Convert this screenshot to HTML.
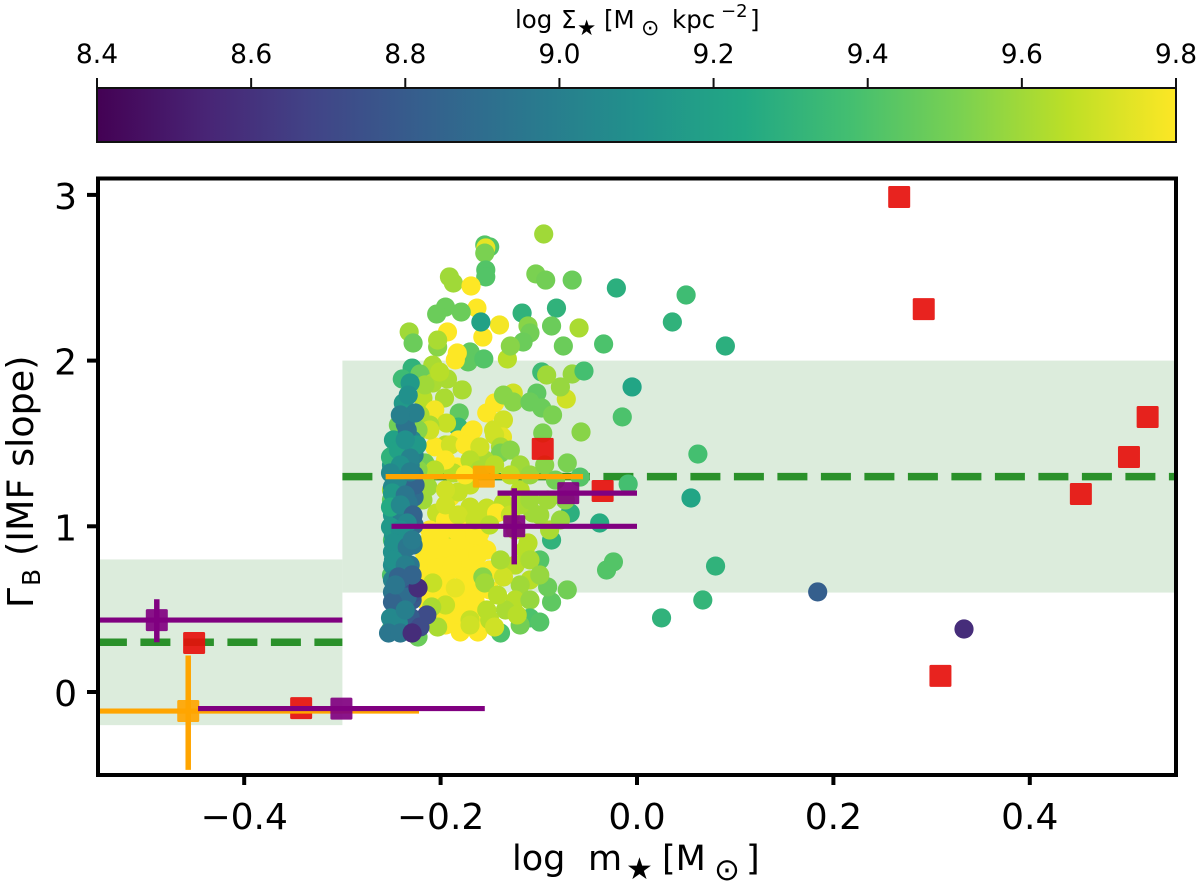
<!DOCTYPE html>
<html lang="en">
<head>
<meta charset="utf-8">
<title>IMF slope vs stellar mass</title>
<style>
html,body{margin:0;padding:0;background:#fff;width:1200px;height:884px;overflow:hidden}
svg{display:block}
text{font-family:"DejaVu Sans","Liberation Sans",sans-serif;fill:#000}
</style>
</head>
<body>
<svg id="chart" xmlns="http://www.w3.org/2000/svg" width="1200" height="884" viewBox="0 0 1200 884"></svg>
<script>
/* stellar-mass scatter: log m*, Gamma_B, log Sigma* */
const logMass = [
-.155,-.150,-.154,-.155,-.154,-.154,-.095,-.191,-.187,-.169,
-.103,-.093,-.066,-.021,-.163,-.195,-.204,-.179,-.140,-.117,
-.082,-.087,-.059,-.193,-.232,-.228,-.203,-.203,-.157,-.111,
-.109,-.116,-.132,-.129,-.075,-.034,-.170,-.172,-.156,-.185,
-.183,-.159,
.090,.036,.050,-.005,-.015,.062,.055,.080,.067,.025,
.184,.333,-.038,-.009,-.031,-.024,
-.071,-.057,-.096,-.068,-.073,-.087,-.089,-.106,-.119,-.099,
-.111,-.109,
-.229,-.239,-.208,-.221,-.193,-.208,-.178,-.196,-.218,-.206,
-.181,-.182,-.194,-.167,-.153,-.145,-.126,-.136,-.126,-.102,
-.109,-.097,-.086,-.072,-.078,-.097,-.092,-.066,-.054,-.136,
-.146,-.137,-.211,-.226,-.195,
-.206,-.182,-.170,-.145,-.139,-.139,-.155,-.183,-.187,-.216,
-.213,-.190,-.182,-.170,-.195,-.170,-.153,-.136,-.143,-.204,
-.193,-.160,
-.211,-.201,-.185,-.170,-.160,-.216,-.201,-.185,-.170,-.153,
-.211,-.195,-.180,-.165,-.206,-.190,-.175,-.160,-.185,-.170,
-.160,-.195,-.180,-.162,-.216,
-.221,-.209,-.193,-.178,-.162,-.219,-.204,-.188,-.173,-.221,
-.201,-.182,-.165,-.150,-.150,-.192,-.178,-.164,-.211,-.195,
-.180,-.165,
-.195,-.182,-.165,-.150,-.129,-.119,-.109,-.099,-.091,-.124,
-.114,-.124,-.109,-.119,-.124,-.109,-.134,-.150,
-.216,-.201,-.221,-.211,-.223,-.190,-.175,-.160,-.170,-.195,
-.160,-.206,-.175,-.145,-.129,-.119,-.109,-.129,-.094,-.083,
-.058,-.078,
-.139,-.109,-.099,-.087,-.091,-.071,-.099,-.119,
-.208,-.195,-.209,-.170,-.153,-.185,-.157,-.155,-.142,-.136,
-.139,-.122,-.145,-.170,-.203,
-.250,-.250,-.249,-.249,-.250,-.250,-.251,-.246,-.243,-.223,
-.223,-.218,
-.248,-.229,-.238,-.248,-.227,-.250,-.231,-.241,-.227,-.249,
-.236,-.227,-.246,-.233,-.249,-.239,-.227,-.248,-.237,-.228,
-.249,-.239,-.249,-.231,-.239,-.249,-.231,-.239,-.249,-.229,
-.243,-.226,-.249,-.236,
-.234,-.236,-.238,-.231,-.226,-.241,-.233,-.224,-.251,-.243,
-.231,-.236,-.241,-.226,-.244,-.251,-.231,-.249,-.236,-.251,
-.241,-.228,-.234,-.251,-.241,-.248,-.234,-.229,-.248,-.236,
-.243,-.228,-.234,-.223,-.249,-.214,-.231,-.221,-.251,-.243,
-.253,-.241,-.229,-.236,-.246,-.229
];
const gammaB = [
2.698,2.686,2.680,2.649,2.547,2.505,2.764,2.505,2.468,2.450,
2.523,2.486,2.486,2.438,2.317,2.323,2.281,2.293,2.215,2.287,
2.317,2.209,2.197,2.173,2.173,2.106,2.082,2.124,2.142,2.209,
2.167,2.112,2.010,2.088,2.088,2.100,2.052,1.992,2.010,2.004,
2.046,2.233,
2.088,2.233,2.396,1.841,1.660,1.436,1.171,.760,.555,.447,
.604,.380,1.020,1.255,.736,.785,
1.382,1.569,1.563,1.080,1.159,.917,.978,1.080,1.219,.797,
.899,.676,
1.955,1.889,1.973,1.919,1.889,1.865,1.823,1.774,1.774,1.702,
1.684,1.599,1.623,1.581,1.684,1.744,1.804,1.792,1.750,1.804,
1.750,1.714,1.672,1.768,1.841,1.931,1.913,1.919,1.937,1.642,
1.581,1.539,1.611,1.521,1.491,
1.479,1.521,1.563,1.551,1.479,1.442,1.400,1.358,1.322,1.382,
1.237,1.177,1.207,1.249,1.219,1.116,1.110,1.141,1.080,1.080,
.960,.960,
.917,.947,.978,1.008,.887,.827,.797,.857,.887,.857,
.706,.676,.736,.766,.585,.555,.616,.646,.435,.495,
.404,.404,.362,.362,.555,
.887,.857,.869,.809,.827,.748,.748,.766,.676,.616,
.495,.525,.555,.616,.736,.616,.465,.453,.978,1.038,
.917,.947,
1.129,1.068,1.038,1.008,1.068,1.129,1.159,1.068,1.159,.978,
.857,.766,.797,.646,.555,.555,.495,.435,
1.853,1.931,1.672,1.581,1.581,1.491,1.491,1.479,1.400,1.400,
1.340,1.340,1.310,1.370,1.460,1.370,1.310,1.310,1.370,1.279,
1.297,1.038,
.356,.447,.422,.543,.634,.616,.706,.404,
.658,.525,.513,.435,.495,.628,.694,.658,.585,.694,
.797,.465,.392,.404,.392,
1.340,1.159,1.008,.917,.706,1.219,.374,1.521,1.611,.332,
1.340,1.159,
1.521,1.521,1.479,1.430,1.430,1.370,1.370,1.310,1.310,1.237,
1.237,1.177,1.141,1.141,1.068,1.068,1.008,.947,.947,.887,
.845,.845,.766,.766,.724,.676,.676,.616,.603,.555,
.507,.435,.386,.386,
1.581,1.617,1.744,1.865,1.684,1.672,1.792,1.491,1.418,1.460,
1.412,1.521,1.370,1.249,1.279,1.322,1.328,1.201,1.189,1.116,
1.129,1.068,1.020,.996,.978,.899,.875,.917,.797,.766,
.694,.597,.573,.628,.543,.465,.453,.392,.447,.416,
.356,.356,.356,.495,.646,.706
];
const logSigma = [
9.42,9.42,9.75,9.52,9.42,9.42,9.60,9.60,9.60,9.80,
9.52,9.50,9.48,9.28,9.80,9.48,9.48,9.48,9.78,9.30,
9.30,9.48,9.62,9.80,9.60,9.48,9.55,9.62,9.80,9.55,
9.50,9.48,9.65,9.55,9.48,9.40,9.45,9.45,9.42,9.80,
9.80,9.20,
9.28,9.30,9.36,9.22,9.40,9.38,9.22,9.30,9.32,9.30,
8.82,8.58,9.26,9.38,9.42,9.42,
9.52,9.55,9.52,9.28,9.55,9.30,9.62,9.60,9.65,9.42,
9.65,9.65,
9.30,9.35,9.62,9.48,9.62,9.62,9.62,9.62,9.65,9.78,
9.45,9.32,9.68,9.80,9.80,9.80,9.70,9.55,9.55,9.45,
9.48,9.48,9.52,9.70,9.58,9.35,9.60,9.58,9.38,9.70,
9.70,9.75,9.62,9.55,9.65,
9.80,9.80,9.80,9.70,9.62,9.52,9.62,9.80,9.65,9.50,
9.60,9.80,9.68,9.68,9.70,9.68,9.68,9.65,9.80,9.68,
9.68,9.80,
9.80,9.80,9.80,9.80,9.80,9.80,9.80,9.80,9.80,9.80,
9.80,9.80,9.80,9.80,9.80,9.80,9.80,9.80,9.80,9.80,
9.80,9.80,9.80,9.80,9.80,
9.80,9.80,9.80,9.80,9.80,9.80,9.80,9.80,9.80,9.80,
9.80,9.80,9.80,9.80,9.80,9.80,9.80,9.80,9.80,9.80,
9.80,9.80,
9.70,9.70,9.68,9.65,9.68,9.62,9.60,9.60,9.60,9.65,
9.65,9.65,9.62,9.60,9.65,9.58,9.62,9.65,
9.60,9.65,9.62,9.70,9.55,9.70,9.80,9.70,9.65,9.80,
9.62,9.65,9.80,9.65,9.55,9.60,9.58,9.65,9.55,9.50,
9.42,9.58,
9.40,9.40,9.42,9.45,9.48,9.50,9.58,9.50,
9.68,9.68,9.62,9.68,9.65,9.75,9.55,9.60,9.65,9.70,
9.62,9.65,9.70,9.70,9.62,
9.50,9.45,9.62,9.40,9.42,9.60,9.40,9.52,9.50,9.48,
9.55,9.60,
9.20,9.05,9.10,9.15,9.00,9.15,9.00,9.00,8.95,9.05,
8.95,8.90,9.10,8.95,9.15,9.00,8.88,9.12,9.00,8.95,
9.10,9.02,9.08,8.95,8.95,9.02,8.85,8.85,8.95,8.80,
8.88,8.75,9.00,8.92,
8.95,8.93,9.15,9.15,9.00,9.00,9.10,9.15,9.30,9.20,
9.02,9.10,9.10,8.85,9.05,9.05,9.00,9.15,8.95,9.25,
9.05,8.85,9.05,9.15,9.10,9.10,8.95,8.98,9.10,9.00,
8.85,8.75,8.90,8.58,8.85,8.72,8.80,8.72,9.05,9.05,
8.95,8.95,8.58,9.00,8.95,8.85
];

/* red literature points */
const redMass  = [.267,.292,.520,.501,.452,-.096,-.035,.309,-.451,-.342];
const redGamma = [2.987,2.311,1.660,1.418,1.195,1.467,1.213,.097,.296,-.097];

/* purple measurements with error bars */
const purpleMass   = [-.489,-.301,-.125,-.070];
const purpleGamma  = [.434,-.100,1.000,1.200];
const purpleMassLo = [-.550,-.447,-.250,-.142];
const purpleMassHi = [-.300,-.155,0,0];
const purpleGammaLo = [.300,-.100,.770,1.200];
const purpleGammaHi = [.560,-.100,1.230,1.200];

/* orange measurements with error bars */
const orangeMass   = [-.156,-.457];
const orangeGamma  = [1.300,-.115];
const orangeMassLo = [-.256,-.550];
const orangeMassHi = [-.055,-.222];
const orangeGammaLo = [1.300,-.470];
const orangeGammaHi = [1.300,.220];

/* Kroupa-like shaded ranges and reference slopes */
const bandMassLo = [-.55,-.30];
const bandMassHi = [-.30,.55];
const bandGammaLo = [-.20,.60];
const bandGammaHi = [.80,2.00];
const bandRef = [.30,1.30];

const xTickValues = [-0.4,-0.2,0.0,0.2,0.4];
const xTickLabels = ['\u22120.4','\u22120.2','0.0','0.2','0.4'];
const yTickValues = [0,1,2,3];
const yTickLabels = ['0','1','2','3'];
const cTickValues = [8.4,8.6,8.8,9.0,9.2,9.4,9.6,9.8];
const cTickLabels = ['8.4','8.6','8.8','9.0','9.2','9.4','9.6','9.8'];

const viridis = ['#440154','#482475','#414487','#355f8d','#2a788e','#21918c','#22a884','#44bf70','#7ad151','#bddf26','#fde725'];

const NS = 'http://www.w3.org/2000/svg';
const svg = document.getElementById('chart');
const xPx = v => 637 + v * 982;
const yPx = v => 692 - v * 165.7;
const cNorm = v => (v - 8.4) / 1.4;
const cPx = v => 97 + cNorm(v) * 1079;

function hex(c){return [1,3,5].map(i=>parseInt(c.substr(i,2),16));}
function cmap(t){
  t = Math.max(0,Math.min(1,t)) * (viridis.length-1);
  const i = Math.min(viridis.length-2,Math.floor(t));
  const a = hex(viridis[i]), b = hex(viridis[i+1]), f = t-i;
  return 'rgb('+a.map((q,k)=>Math.round(q+(b[k]-q)*f)).join(',')+')';
}
function el(tag, attrs, parent){
  const e = document.createElementNS(NS, tag);
  for (const k in attrs) e.setAttribute(k, attrs[k]);
  (parent || svg).appendChild(e);
  return e;
}
function txt(s, attrs, parent){
  const e = el('text', attrs, parent);
  e.textContent = s;
  return e;
}

/* colorbar */
const defs = el('defs', {});
const grad = el('linearGradient', {id:'viridis-grad', x1:0, y1:0, x2:1, y2:0}, defs);
viridis.forEach((c,i)=>{ el('stop',{offset:(i/(viridis.length-1)),'stop-color':c},grad); });
const cbar = el('rect',{x:97,y:88,width:1079,height:54,fill:'url(#viridis-grad)',stroke:'#111','stroke-width':2});


cTickValues.forEach((v,i)=>{
  const t = el('line',{x1:cPx(v),x2:cPx(v),y1:78,y2:88,stroke:'#111','stroke-width':2});
  
  
  const l = txt(cTickLabels[i],{x:cPx(v),y:63,'text-anchor':'middle','font-size':26.5});
  
  
});

/* shaded bands and reference lines */
const clip = el('clipPath',{id:'plot-clip'},defs);
el('rect',{x:97,y:178,width:1080,height:597},clip);
const plot = el('g',{'clip-path':'url(#plot-clip)'});


bandMassLo.forEach((lo,i)=>{
  const r = el('rect',{x:xPx(lo),y:yPx(bandGammaHi[i]),width:xPx(bandMassHi[i])-xPx(lo),height:yPx(bandGammaLo[i])-yPx(bandGammaHi[i]),fill:'#dcecdc'},plot);
  
  
});
bandMassLo.forEach((lo,i)=>{
  const d = el('line',{x1:xPx(lo),x2:xPx(bandMassHi[i]),y1:yPx(bandRef[i]),y2:yPx(bandRef[i]),stroke:'#2a912a','stroke-width':7.5,'stroke-dasharray':'30 13.5'},plot);
  
  
});

/* scatter */
logMass.forEach((m,i)=>{
  const c = el('circle',{cx:xPx(m),cy:yPx(gammaB[i]),r:9.6,fill:cmap(cNorm(logSigma[i]))},plot);
  
  
});

function square(x,y,color,parent){
  return el('rect',{x:xPx(x)-11,y:yPx(y)-11,width:22,height:22,rx:1.5,fill:color,'fill-opacity':.92},parent);
}
redMass.forEach((m,i)=>{
  const s = square(m,redGamma[i],'#e6100c',plot);
  
  
});
function errBars(mass,gamma,mLo,mHi,gLo,gHi,color,name){
  mass.forEach((m,i)=>{
    const h = el('line',{x1:xPx(mLo[i]),x2:xPx(mHi[i]),y1:yPx(gamma[i]),y2:yPx(gamma[i]),stroke:color,'stroke-width':5.2},plot);
    
    
    if (gLo[i] !== gHi[i]) {
      const v = el('line',{x1:xPx(m),x2:xPx(m),y1:yPx(gLo[i]),y2:yPx(gHi[i]),stroke:color,'stroke-width':5.5},plot);
      
      
    }
    const s = square(m,gamma[i],color,plot);
    
    
  });
}
errBars(orangeMass,orangeGamma,orangeMassLo,orangeMassHi,orangeGammaLo,orangeGammaHi,'#ffa500','orange');
errBars(purpleMass,purpleGamma,purpleMassLo,purpleMassHi,purpleGammaLo,purpleGammaHi,'#800080','purple');

/* frame and ticks */
const frame = el('rect',{x:98,y:178.5,width:1078,height:596.5,fill:'none',stroke:'#000','stroke-width':4});


xTickValues.forEach((v,i)=>{
  const t = el('line',{x1:xPx(v),x2:xPx(v),y1:776,y2:785,stroke:'#000','stroke-width':4});
  
  
  const l = txt(xTickLabels[i],{x:xPx(v),y:829,'text-anchor':'middle','font-size':36});
  
  
});
yTickValues.forEach((v,i)=>{
  const t = el('line',{x1:87,x2:97,y1:yPx(v),y2:yPx(v),stroke:'#000','stroke-width':4});
  
  
  const l = txt(yTickLabels[i],{x:77,y:yPx(v)+14,'text-anchor':'end','font-size':36});
  
  
});
</script>
<script>
/* axis titles */
(function(){
  const xt = el('g',{});
  
  
  txt('log',{x:512,y:870,'font-size':35},xt);
  txt('m',{x:588,y:870,'font-size':35},xt);
  txt('\u2605',{x:626,y:879,'font-size':30},xt);
  txt('[M',{x:662,y:870,'font-size':35},xt);
  txt('\u2299',{x:714,y:880,'font-size':31},xt);
  txt(']',{x:746,y:870,'font-size':35},xt);

  const ct = el('g',{});
  
  
  txt('log',{x:515,y:28,'font-size':24.5},ct);
  txt('\u03A3',{x:561,y:28,'font-size':24.5},ct);
  txt('\u2605',{x:577,y:35,'font-size':21.5},ct);
  txt('[M',{x:604,y:28,'font-size':24.5},ct);
  txt('\u2299',{x:641,y:35,'font-size':22},ct);
  txt('kpc',{x:672,y:28,'font-size':24.5},ct);
  txt('\u22122',{x:721,y:17,'font-size':18},ct);
  txt(']',{x:750,y:28,'font-size':24.5},ct);

  const yt = el('g',{transform:'translate(33,605) rotate(-90)'});
  
  
  txt('\u0393',{x:-3,y:0,'font-size':36},yt);
  txt('B',{x:19,y:7,'font-size':25},yt);
  txt('(IMF slope)',{x:49,y:0,'font-size':36.5},yt);
})();
</script>
</body>
</html>
